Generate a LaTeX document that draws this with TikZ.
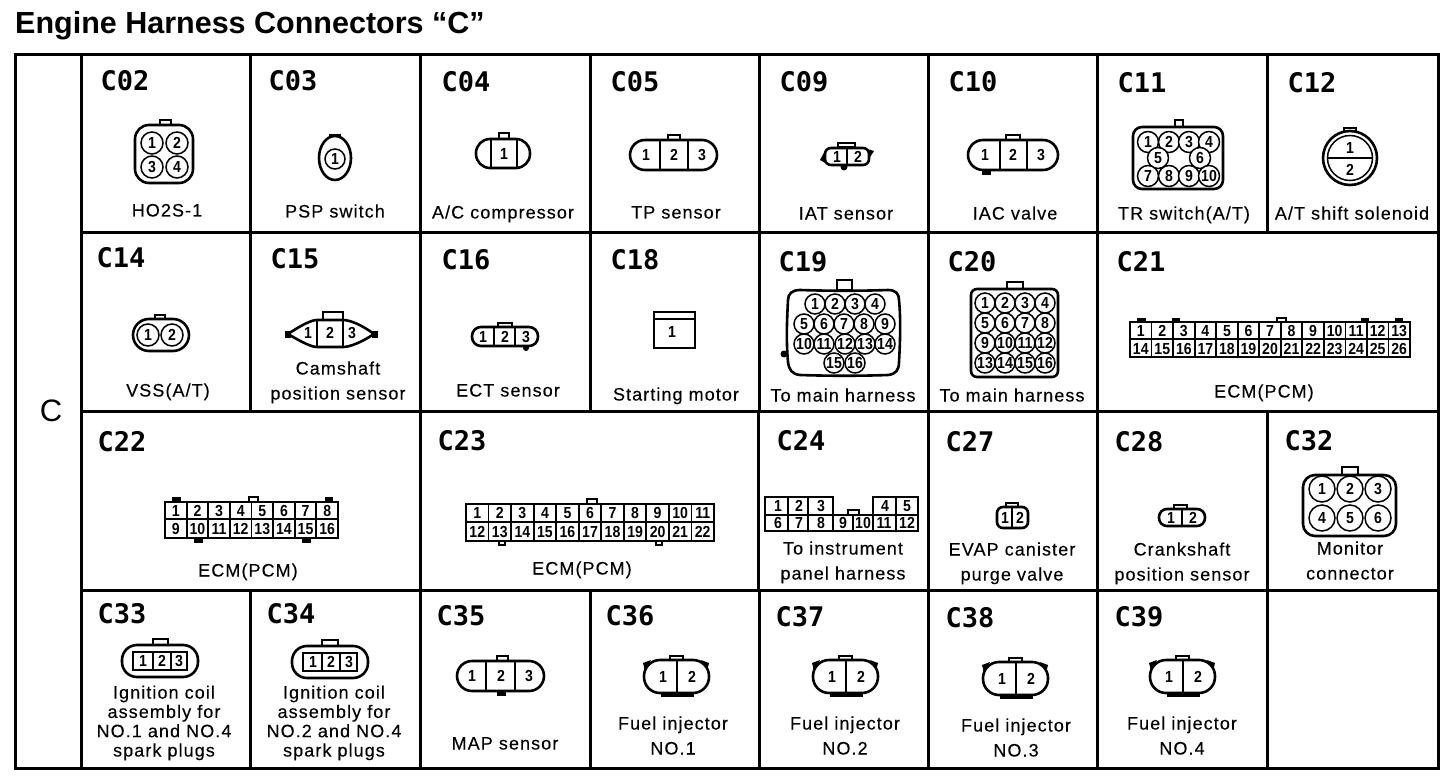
\documentclass[tikz,border=0pt]{standalone}
\usepackage{fontspec}
\setmainfont{Liberation Sans}
\newfontfamily\lblfont[LetterSpace=6,FakeBold=0.2]{Liberation Sans}
\newfontfamily\hdrfont{DejaVu Sans Mono Bold}
\newfontfamily\numfont[FakeStretch=0.88]{Liberation Sans Bold}
\newfontfamily\titlefont{Liberation Sans Bold}
\newcount\nodecnt
\tikzset{
  gridline/.style={line width=3pt,line cap=rect},
  body/.style={line width=2.6pt,fill=white},
  tabbox/.style={line width=1.6pt,fill=white},
  tabsolid/.style={line width=1pt,fill=black},
  divider/.style={line width=1.8pt},
  hdr/.style={font=\hdrfont\fontsize{27}{27}\selectfont,inner sep=0pt},
  lbl/.style={font=\lblfont\fontsize{18}{25}\selectfont,inner sep=0pt,align=center,text height=13pt,text depth=0pt},
  lblcoil/.style={font=\lblfont\fontsize{18}{19.3}\selectfont,inner sep=0pt,align=center,text height=13pt,text depth=0pt},
  num/.style={font=\numfont\fontsize{16}{16}\selectfont,inner sep=0pt,text height=11.5pt,text depth=0pt},
  pinc/.style={circle,draw,line width=1.5pt,fill=white,inner sep=0pt,font=\numfont\fontsize{16}{16}\selectfont},
}
\newcommand{\hd}[3]{\global\advance\nodecnt by 1 \node[hdr] (n\the\nodecnt) at (#1,#2+1) {#3};}
\newcommand{\lb}[3]{\global\advance\nodecnt by 1 \node[lbl] (n\the\nodecnt) at (#1,#2) {#3};}
\newcommand{\lbc}[3]{\global\advance\nodecnt by 1 \node[lblcoil] (n\the\nodecnt) at (#1,#2) {#3};}
\newcommand{\nm}[3]{\global\advance\nodecnt by 1 \node[num] (n\the\nodecnt) at (#1,#2) {#3};}
\newcommand{\pn}[4]{\global\advance\nodecnt by 1 \node[pinc,minimum size=#3*2pt] (n\the\nodecnt) at (#1,#2) {#4};}
\newcommand{\tb}[4]{\draw[tabbox] (#1,#2) rectangle (#3,#4);}
\newcommand{\tbs}[4]{\draw[tabsolid] (#1,#2) rectangle (#3,#4);}
\newcommand{\bd}[5]{\draw[body,rounded corners=#5pt] (#1,#2) rectangle (#3,#4);}
\newcommand{\vl}[3]{\draw[divider] (#1,#2) -- (#1,#3);}
\begin{document}
\begin{tikzpicture}[x=1pt,y=-1pt]
\useasboundingbox (0,0) rectangle (1456,778);
\fill[white] (0,0) rectangle (1456,778);
\node[anchor=base west,inner sep=0pt,font=\titlefont\fontsize{30.5}{30.5}\selectfont] (title) at (15,34) {Engine Harness Connectors “C”};
% grid
\draw[gridline] (15,55) rectangle (1438,768);
\draw[gridline] (81,55) -- (81,768);
\draw[gridline] (81,232) -- (1438,232);
\draw[gridline] (81,411) -- (1438,411);
\draw[gridline] (81,590) -- (1438,590);
\foreach \x in {250,420,590,759,928,1097,1267} {\draw[gridline] (\x,55) -- (\x,232);}
\foreach \x in {250,420,590,759,928,1097} {\draw[gridline] (\x,232) -- (\x,411);}
\foreach \x in {420,758,928,1097,1267} {\draw[gridline] (\x,411) -- (\x,590);}
\foreach \x in {250,420,590,759,928,1097,1267} {\draw[gridline] (\x,590) -- (\x,768);}
\node[inner sep=0pt,font=\fontsize{31}{31}\selectfont] (sect) at (51,411) {C};
% ---- headers
\hd{125}{80}{C02}\hd{293}{80}{C03}\hd{466}{81}{C04}\hd{635}{81}{C05}\hd{804}{81}{C09}\hd{973}{81}{C10}\hd{1142}{82}{C11}\hd{1312}{82}{C12}
\hd{121}{257}{C14}\hd{295}{258}{C15}\hd{466}{259}{C16}\hd{635}{259}{C18}\hd{803}{261}{C19}\hd{972}{261}{C20}\hd{1141}{261}{C21}
\hd{122}{441}{C22}\hd{462}{440}{C23}\hd{801}{440}{C24}\hd{970}{441}{C27}\hd{1139}{441}{C28}\hd{1309}{440}{C32}
\hd{122}{613}{C33}\hd{291}{613}{C34}\hd{461}{615}{C35}\hd{630}{615}{C36}\hd{800}{616}{C37}\hd{970}{617}{C38}\hd{1139}{616}{C39}
% ---- labels
\lb{167}{210}{HO2S-1}\lb{335}{211}{PSP switch}\lb{503}{212}{A/C compressor}\lb{676}{212}{TP sensor}\lb{846}{213}{IAT sensor}\lb{1015}{213}{IAC valve}\lb{1184}{213}{TR switch(A/T)}\lb{1352}{213}{A/T shift solenoid}
\lb{168}{390}{VSS(A/T)}\lb{338}{393}{Camshaft\\position sensor}\lb{508}{390}{ECT sensor}\lb{676}{394}{Starting motor}\lb{843}{395}{To main harness}\lb{1012}{395}{To main harness}\lb{1264}{391}{ECM(PCM)}
\lb{248}{570}{ECM(PCM)}\lb{582}{568}{ECM(PCM)}\lb{843}{573}{To instrument\\panel harness}\lb{1012}{574}{EVAP canister\\purge valve}\lb{1182}{574}{Crankshaft\\position sensor}\lb{1350}{573}{Monitor\\connector}
\lbc{164}{750}{Ignition coil\\assembly for\\NO.1 and NO.4\\spark plugs}\lbc{334}{750}{Ignition coil\\assembly for\\NO.2 and NO.4\\spark plugs}\lb{505}{743}{MAP sensor}
\lb{673}{748}{Fuel injector\\NO.1}\lb{845}{748}{Fuel injector\\NO.2}\lb{1016}{750}{Fuel injector\\NO.3}\lb{1182}{748}{Fuel injector\\NO.4}
% ---- C02
\tb{160}{120}{171}{125}\bd{135}{125}{193}{183}{14}
\pn{152}{143}{11}{1}\pn{177}{143}{11}{2}\pn{152}{167}{11}{3}\pn{177}{167}{11}{4}
% ---- C03
\tb{330}{135}{340}{140}\draw[body] (335,158) ellipse (16 and 22);\pn{335}{159}{10}{1}
% ---- C04
\tb{499}{133}{509}{139}\bd{476}{139}{530}{168}{14}\vl{491}{139}{168}\vl{517}{139}{168}\nm{504}{154}{1}
% ---- C05
\tb{668}{135}{680}{140}\bd{630}{140}{717}{170}{15}\vl{660}{140}{170}\vl{688}{140}{170}\nm{646}{155}{1}\nm{674}{155}{2}\nm{702}{155}{3}
% ---- C09
\tb{838}{143}{855}{147}\fill (844,167) circle (3.5);
\fill (826,149) -- (820,160) -- (827,164) -- cycle;\fill (867,149) -- (874,151) -- (868,160) -- cycle;
\bd{825}{148}{869}{165}{6}\vl{847}{148}{165}\nm{837}{157}{1}\nm{858}{157}{2}
% ---- C10
\tb{1006}{135}{1020}{140}\tbs{982}{170}{990}{175}\bd{968}{140}{1058}{170}{15}\vl{1000}{140}{170}\vl{1027}{140}{170}\nm{985}{155}{1}\nm{1013}{155}{2}\nm{1041}{155}{3}
% ---- C11
\tb{1175}{120}{1183}{127}\bd{1133}{127}{1223}{189}{9}
\pn{1148}{142}{10.5}{1}\pn{1169}{142}{10.5}{2}\pn{1189}{142}{10.5}{3}\pn{1209}{142}{10.5}{4}
\pn{1158}{158}{10.5}{5}\pn{1200}{158}{10.5}{6}
\pn{1148}{176}{10.5}{7}\pn{1169}{176}{10.5}{8}\pn{1189}{176}{10.5}{9}\pn{1209}{176}{10.5}{10}
% ---- C12
\tb{1344}{128}{1356}{133}\draw[body] (1350,158) circle (27);\draw[line width=1.5pt] (1350,158) circle (22.5);\draw[divider] (1328,158) -- (1372,158);\nm{1350}{148}{1}\nm{1350}{170}{2}
% ---- C14
\tb{155}{315}{165}{319}\bd{133}{319}{189}{351}{16}\pn{148}{335}{11}{1}\pn{172}{335}{11}{2}
% ---- C15
\tb{323}{312}{343}{320}\tbs{285}{331}{290}{337}\tbs{372}{331}{377}{337}
\draw[body] (288,334) .. controls (303,324) and (312,320) .. (317,320) -- (343,320) .. controls (350,320) and (362,325) .. (374,334) .. controls (362,342) and (350,347) .. (343,347) -- (317,347) .. controls (312,347) and (303,343) .. (288,334) -- cycle;
\vl{317}{320}{347}\vl{343}{320}{347}\nm{308}{333}{1}\nm{330}{333}{2}\nm{352}{333}{3}
% ---- C16
\tb{498}{323}{512}{327}\fill (526,348) circle (3);\bd{472}{327}{538}{346}{9}\vl{494}{327}{346}\vl{515}{327}{346}\nm{483}{337}{1}\nm{505}{337}{2}\nm{526}{337}{3}
% ---- C18
\draw[body] (654,312) rectangle (695,348);\draw[divider] (654,319) -- (695,319);\nm{672}{332}{1}
% ---- C19
\tb{837}{280}{852}{290}\fill (784,354) circle (3.5);
\draw[body] (800,290) .. controls (830,291) and (860,291) .. (888,290) .. controls (896,290) and (899,294) .. (899,300) .. controls (901,320) and (900,345) .. (899,362) .. controls (899,370) and (896,374) .. (888,375) .. controls (860,376) and (830,376) .. (800,375) .. controls (792,374) and (789,370) .. (788,362) .. controls (786,340) and (787,320) .. (788,300) .. controls (788,294) and (792,290) .. (800,290) -- cycle;
\pn{815}{304}{10}{1}\pn{835}{304}{10}{2}\pn{855}{304}{10}{3}\pn{875}{304}{10}{4}
\pn{804}{324}{10}{5}\pn{824}{324}{10}{6}\pn{844}{324}{10}{7}\pn{864}{324}{10}{8}\pn{885}{324}{10}{9}
\pn{804}{344}{10}{10}\pn{824}{344}{10}{11}\pn{845}{344}{10}{12}\pn{865}{344}{10}{13}\pn{885}{344}{10}{14}
\pn{834}{363}{10}{15}\pn{855}{363}{10}{16}
% ---- C20
\tb{1007}{282}{1023}{289}\bd{971}{289}{1058}{377}{6}
\foreach \i/\yy in {0/303,1/323,2/343,3/363}{
  \foreach \j/\xx in {1/985,2/1005,3/1025,4/1045}{
    \pgfmathtruncatemacro{\pinno}{\i*4+\j}
    \pn{\xx}{\yy}{10}{\pinno}
  }
}
% ---- C21
\tbs{1137}{318}{1145}{322}\tbs{1172}{318}{1179}{322}\tb{1277}{318}{1286}{322}\tbs{1361}{318}{1368}{322}\tbs{1395}{318}{1402}{322}
\draw[line width=2.6pt] (1130,322) rectangle (1410,357);\draw[divider] (1130,339) -- (1410,339);
\foreach \k in {1,...,12} {\draw[divider] ({1130+\k*280/13},322) -- ({1130+\k*280/13},357);}
\foreach \k in {1,...,13}{
  \pgfmathtruncatemacro{\bt}{\k+13}
  \pgfmathsetmacro{\cx}{1130+(\k-0.5)*280/13}
  \nm{\cx}{331}{\k}\nm{\cx}{349}{\bt}
}
% ---- C22
\tbs{172}{497}{180}{502}\tb{249}{497}{258}{502}\tbs{325}{497}{332}{502}\tbs{194}{538}{202}{542}\tbs{302}{538}{310}{542}
\draw[line width=2.6pt] (165,502) rectangle (338,538);\draw[divider] (165,519) -- (338,519);
\foreach \k in {1,...,7} {\draw[divider] ({165+\k*173/8},502) -- ({165+\k*173/8},538);}
\foreach \k in {1,...,8}{
  \pgfmathtruncatemacro{\bt}{\k+8}
  \pgfmathsetmacro{\cx}{165+(\k-0.5)*173/8}
  \nm{\cx}{511}{\k}\nm{\cx}{529}{\bt}
}
% ---- C23
\tb{587}{499}{597}{504}\tb{499}{541}{505}{545}\tb{656}{541}{662}{545}
\draw[line width=2.6pt] (466,504) rectangle (714,541);\draw[divider] (466,522) -- (714,522);
\foreach \k in {1,...,10} {\draw[divider] ({466+\k*248/11},504) -- ({466+\k*248/11},541);}
\foreach \k in {1,...,11}{
  \pgfmathtruncatemacro{\bt}{\k+11}
  \pgfmathsetmacro{\cx}{466+(\k-0.5)*248/11}
  \nm{\cx}{513}{\k}\nm{\cx}{532}{\bt}
}
% ---- C24
\tb{848}{510}{859}{515}
\draw[line width=2.6pt] (765,497) -- (833,497) -- (833,515) -- (873,515) -- (873,497) -- (918,497) -- (918,531) -- (765,531) -- cycle;
\draw[divider] (765,515) -- (918,515);
\foreach \x in {788,808,833,853,873,896} {\vl{\x}{515}{531}}
\foreach \x in {788,808,896} {\vl{\x}{497}{515}}
\nm{778}{506}{1}\nm{799}{506}{2}\nm{821}{506}{3}\nm{885}{506}{4}\nm{907}{506}{5}
\nm{778}{523}{6}\nm{799}{523}{7}\nm{821}{523}{8}\nm{843}{523}{9}\nm{863}{523}{10}\nm{884}{523}{11}\nm{907}{523}{12}
% ---- C27
\tb{1006}{503}{1018}{507}\bd{997}{507}{1028}{528}{6}\vl{1012}{507}{528}\nm{1005}{518}{1}\nm{1020}{518}{2}
% ---- C28
\tb{1174}{505}{1187}{509}\bd{1159}{509}{1205}{526}{8}\vl{1182}{509}{526}\nm{1171}{518}{1}\nm{1193}{518}{2}
% ---- C32
\tb{1342}{467}{1358}{475}\bd{1303}{475}{1396}{536}{12}
\pn{1322}{489}{13}{1}\pn{1350}{489}{13}{2}\pn{1378}{489}{13}{3}\pn{1322}{518}{13}{4}\pn{1350}{518}{13}{5}\pn{1378}{518}{13}{6}
% ---- C33
\tb{153}{639}{168}{645}\bd{122}{645}{198}{677}{15}\draw[line width=1.8pt] (133,652) rectangle (187,670);\vl{153}{652}{670}\vl{171}{652}{670}\nm{143}{661}{1}\nm{162}{661}{2}\nm{179}{661}{3}
% ---- C34
\tb{322}{640}{338}{646}\bd{292}{646}{368}{678}{15}\draw[line width=1.8pt] (303,653) rectangle (357,671);\vl{322}{653}{671}\vl{340}{653}{671}\nm{313}{662}{1}\nm{331}{662}{2}\nm{349}{662}{3}
% ---- C35
\tb{497}{656}{508}{661}\tbs{497}{691}{505}{695}\bd{457}{661}{544}{691}{15}\vl{486}{661}{691}\vl{515}{661}{691}\nm{472}{676}{1}\nm{501}{676}{2}\nm{529}{676}{3}
% ---- C36-39 injector
\foreach \cx/\cy in {677/677,846/677,1016/679,1183/677}{
  \begin{scope}[shift={(\cx,\cy)}]
  \tb{-7}{-21}{6}{-17}
  \tbs{-16}{16}{16}{19}
  \fill (-34,-14) -- (-26,-17) -- (-32,-6) -- cycle;
  \fill (32,-14) -- (24,-17) -- (30,-6) -- cycle;
  \bd{-33}{-17}{32}{16}{16}
  \vl{0}{-17}{16}
  \nm{-14}{0}{1}\nm{15}{0}{2}
  \end{scope}
}
\end{tikzpicture}
\end{document}
